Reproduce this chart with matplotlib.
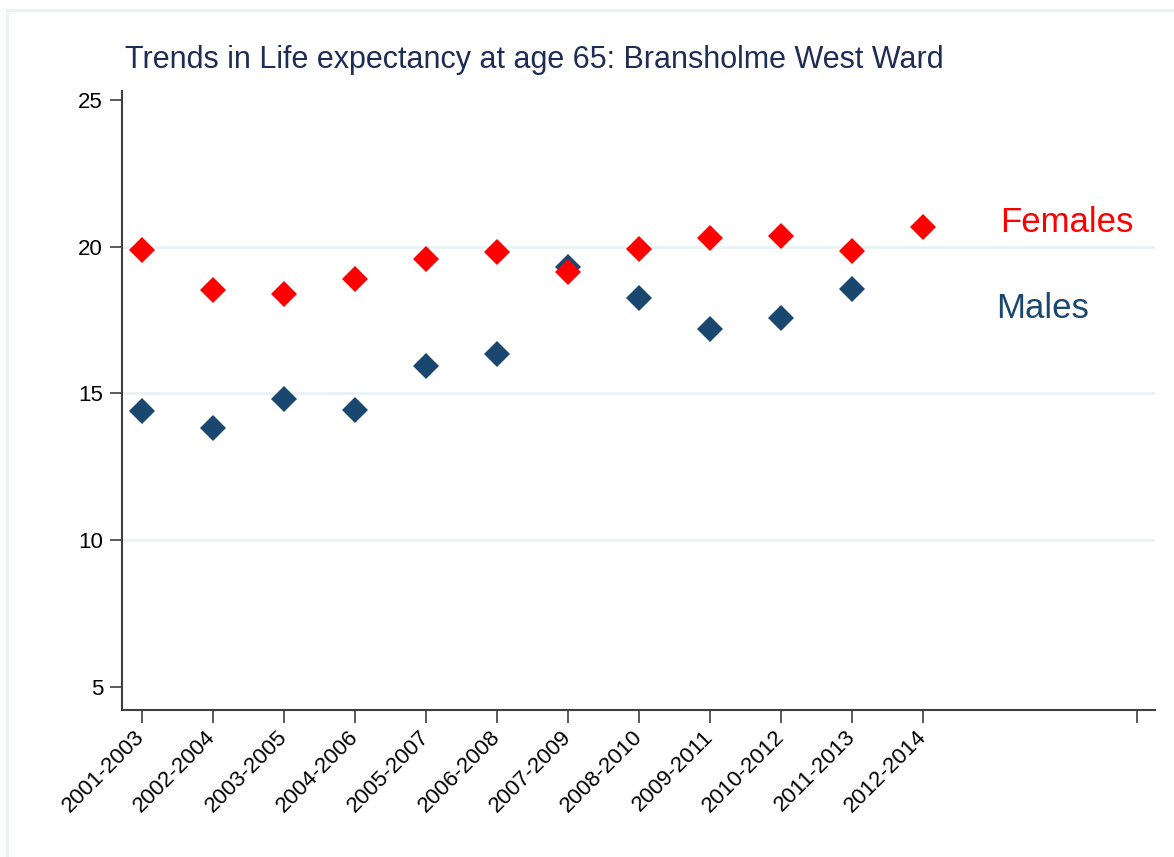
import matplotlib.pyplot as plt
from matplotlib.lines import Line2D

plt.rcParams['font.family'] = ['Liberation Sans', 'DejaVu Sans']

periods = ['2001-2003', '2002-2004', '2003-2005', '2004-2006', '2005-2007',
           '2006-2008', '2007-2009', '2008-2010', '2009-2011', '2010-2012',
           '2011-2013', '2012-2014']
females = [19.89, 18.52, 18.38, 18.90, 19.58, 19.83, 19.15, 19.92, 20.29,
           20.36, 19.84, 20.66]
males = [14.40, 13.81, 14.81, 14.43, 15.93, 16.34, 19.31, 18.26, 17.19,
         17.58, 18.56]
yticks = [5, 10, 15, 20, 25]

navy = '#1a476f'
red = '#ff0000'
grid_col = '#eaf2f3'

fig = plt.figure(figsize=(11.74, 8.57), dpi=100)
ax = fig.add_axes([0.1037, 0.1715, 0.9838 - 0.1037, 0.8942 - 0.1715])

# outer frame (only top and left edges visible)
fig.add_artist(Line2D([7 / 1174, 1], [1 - 10 / 857, 1 - 10 / 857],
                      transform=fig.transFigure, color=grid_col, lw=2))
fig.add_artist(Line2D([7 / 1174, 7 / 1174], [0, 1 - 10 / 857],
                      transform=fig.transFigure, color=grid_col, lw=2))

for g in [10, 15, 20]:
    ax.axhline(g, color=grid_col, lw=2, zorder=0)

ax.plot(range(len(males)), males, 'D', color=navy, ms=13, mew=0, zorder=3)
ax.plot(range(len(females)), females, 'D', color=red, ms=13, mew=0, zorder=4)

ax.text(13.02, 20.51, 'Females', color=red, fontsize=25, ha='center', va='baseline')
ax.text(12.68, 17.57, 'Males', color=navy, fontsize=25, ha='center', va='baseline')

ax.set_xlim(-0.28, 14.26)
ax.set_ylim(4.2, 25.32)
ax.set_xticks(list(range(len(periods))) + [14])
ax.set_xticklabels(periods + [''], rotation=45, ha='right', va='center',
                   rotation_mode='anchor', fontsize=16)
ax.set_yticks(yticks)
ax.set_yticklabels([str(v) for v in yticks], fontsize=16)

for s in ['top', 'right']:
    ax.spines[s].set_visible(False)
for s in ['left', 'bottom']:
    ax.spines[s].set_color('#404040')
    ax.spines[s].set_linewidth(1.5)
ax.tick_params(axis='both', length=9, width=1.2, color='#404040', pad=4.5)
ax.tick_params(axis='x', pad=8)

fig.text(125 / 1174, 1 - 68.3 / 857,
         'Trends in Life expectancy at age 65: Bransholme West Ward',
         fontsize=22, color='#1f2d55', ha='left', va='baseline')

fig.savefig('out.png', dpi=100)
